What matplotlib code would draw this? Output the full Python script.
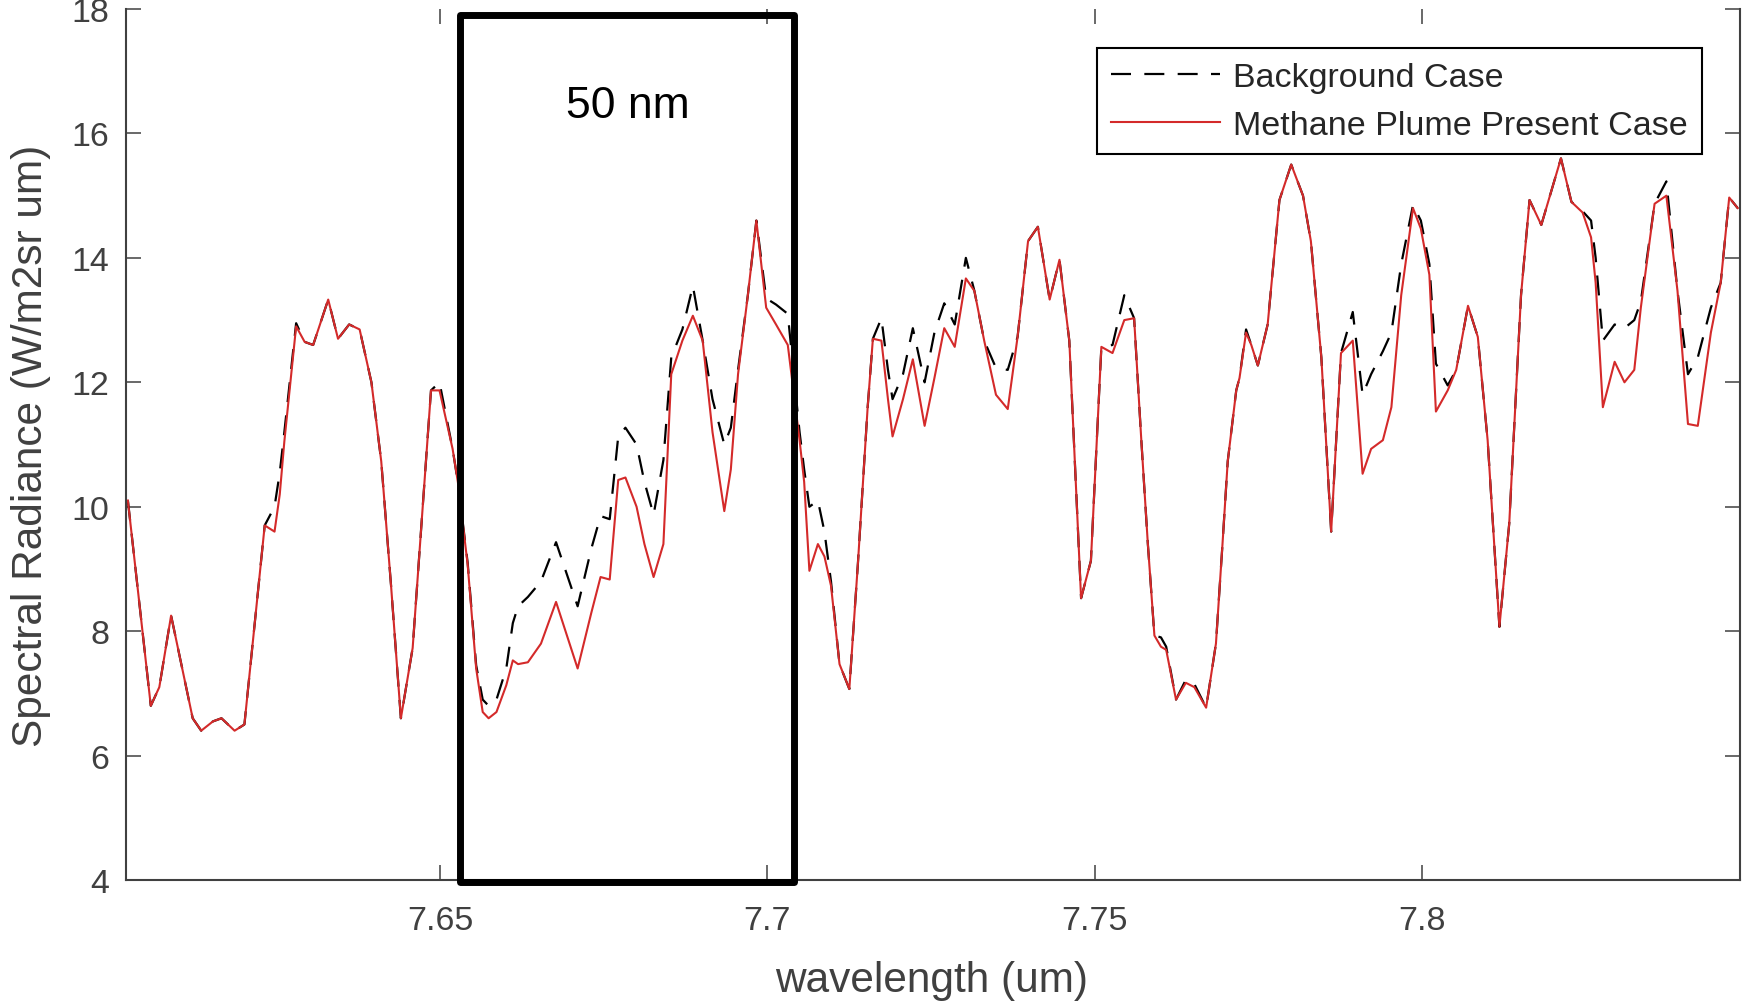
import matplotlib
matplotlib.use("Agg")
import matplotlib.pyplot as plt
from matplotlib.patches import Rectangle

plt.rcParams['font.family'] = ['Liberation Sans', 'DejaVu Sans']

# wavelength (um) of the read-off vertices
wavelength = [
    7.6023, 7.6058, 7.6071, 7.6089, 7.6107, 7.6122, 7.6135, 7.6153, 7.6166, 7.6186,
    7.6201, 7.6232, 7.6247, 7.6255, 7.6262, 7.6280, 7.6293, 7.6306, 7.6329, 7.6344,
    7.6361, 7.6377, 7.6395, 7.6410, 7.6425, 7.6440, 7.6458, 7.6486, 7.6499, 7.6519,
    7.6527, 7.6542, 7.6555, 7.6565, 7.6574, 7.6586, 7.6601, 7.6611, 7.6619, 7.6634,
    7.6654, 7.6677, 7.6710, 7.6731, 7.6745, 7.6759, 7.6772, 7.6783, 7.6800, 7.6812,
    7.6826, 7.6841, 7.6853, 7.6870, 7.6886, 7.6901, 7.6916, 7.6934, 7.6944, 7.6955,
    7.6970, 7.6983, 7.6998, 7.7013, 7.7031, 7.7049, 7.7056, 7.7064, 7.7077, 7.7087,
    7.7097, 7.7110, 7.7125, 7.7138, 7.7153, 7.7161, 7.7174, 7.7184, 7.7191, 7.7207,
    7.7222, 7.7240, 7.7255, 7.7270, 7.7286, 7.7303, 7.7316, 7.7331, 7.7349, 7.7367,
    7.7382, 7.7398, 7.7413, 7.7431, 7.7446, 7.7461, 7.7479, 7.7494, 7.7510, 7.7527,
    7.7545, 7.7560, 7.7571, 7.7581, 7.7591, 7.7601, 7.7609, 7.7624, 7.7639, 7.7652,
    7.7670, 7.7685, 7.7695, 7.7703, 7.7716, 7.7721, 7.7731, 7.7739, 7.7749, 7.7764,
    7.7782, 7.7800, 7.7818, 7.7830, 7.7846, 7.7861, 7.7876, 7.7894, 7.7909, 7.7922,
    7.7940, 7.7953, 7.7968, 7.7986, 7.7998, 7.8011, 7.8021, 7.8039, 7.8052, 7.8070,
    7.8085, 7.8100, 7.8118, 7.8133, 7.8151, 7.8164, 7.8182, 7.8212, 7.8228, 7.8245,
    7.8258, 7.8265, 7.8276, 7.8294, 7.8309, 7.8324, 7.8334, 7.8355, 7.8373, 7.8390,
    7.8406, 7.8421, 7.8441, 7.8456, 7.8469, 7.8482,
]

background = [
    10.10, 6.80, 7.10, 8.25, 7.35, 6.60, 6.40, 6.55, 6.60, 6.40,
    6.50, 9.70, 10.00, 10.55, 11.20, 12.95, 12.65, 12.60, 13.33, 12.70,
    12.93, 12.85, 12.00, 10.73, 8.73, 6.60, 7.73, 11.87, 12.00, 10.93,
    10.40, 9.10, 7.45, 6.90, 6.80, 6.90, 7.40, 8.13, 8.40, 8.55,
    8.80, 9.43, 8.40, 9.33, 9.85, 9.80, 11.13, 11.27, 11.00, 10.40,
    9.87, 10.75, 12.40, 12.85, 13.55, 12.67, 11.73, 11.00, 11.27, 12.20,
    13.40, 14.60, 13.35, 13.25, 13.10, 11.20, 10.60, 10.00, 10.10, 9.60,
    8.80, 7.47, 7.07, 9.07, 11.60, 12.70, 13.03, 12.20, 11.73, 12.13,
    12.87, 12.00, 12.80, 13.27, 12.93, 14.00, 13.47, 12.67, 12.23, 12.20,
    12.73, 14.27, 14.50, 13.33, 13.97, 12.67, 8.53, 9.13, 12.57, 12.60,
    13.40, 13.03, 11.07, 9.40, 7.93, 7.90, 7.75, 6.90, 7.22, 7.15,
    6.77, 7.80, 9.40, 10.73, 11.87, 12.07, 12.85, 12.60, 12.27, 12.93,
    14.93, 15.50, 15.00, 14.27, 12.40, 9.60, 12.47, 13.13, 11.80, 12.13,
    12.50, 12.80, 13.90, 14.85, 14.60, 13.90, 12.30, 11.95, 12.20, 13.23,
    12.73, 11.07, 8.07, 9.73, 13.40, 14.93, 14.53, 15.60, 14.90, 14.75,
    14.60, 14.00, 12.67, 12.93, 12.87, 13.00, 13.30, 14.87, 15.23, 13.47,
    12.13, 12.40, 13.20, 13.60, 14.97, 14.80,
]

plume = [
    10.10, 6.80, 7.10, 8.25, 7.35, 6.60, 6.40, 6.55, 6.60, 6.40,
    6.50, 9.70, 9.60, 10.20, 11.05, 12.90, 12.65, 12.60, 13.33, 12.70,
    12.93, 12.85, 12.00, 10.73, 8.73, 6.60, 7.73, 11.87, 11.87, 10.93,
    10.40, 9.07, 7.40, 6.70, 6.60, 6.70, 7.13, 7.53, 7.47, 7.50,
    7.80, 8.47, 7.40, 8.30, 8.87, 8.83, 10.43, 10.47, 10.00, 9.40,
    8.87, 9.40, 12.13, 12.67, 13.07, 12.67, 11.20, 9.93, 10.60, 12.13,
    13.40, 14.60, 13.20, 12.93, 12.60, 11.07, 10.40, 8.97, 9.40, 9.20,
    8.73, 7.47, 7.07, 9.07, 11.60, 12.70, 12.67, 11.73, 11.13, 11.73,
    12.37, 11.30, 12.07, 12.87, 12.57, 13.67, 13.47, 12.67, 11.80, 11.57,
    12.73, 14.27, 14.50, 13.33, 13.97, 12.67, 8.53, 9.13, 12.57, 12.47,
    13.00, 13.03, 11.07, 9.40, 7.93, 7.75, 7.70, 6.90, 7.17, 7.10,
    6.77, 7.80, 9.40, 10.73, 11.87, 12.07, 12.80, 12.60, 12.27, 12.93,
    14.93, 15.50, 15.00, 14.27, 12.40, 9.60, 12.47, 12.67, 10.53, 10.93,
    11.07, 11.60, 13.40, 14.80, 14.47, 13.73, 11.53, 11.87, 12.20, 13.23,
    12.73, 11.07, 8.07, 9.73, 13.40, 14.93, 14.53, 15.60, 14.90, 14.73,
    14.33, 13.60, 11.60, 12.33, 12.00, 12.20, 13.20, 14.87, 15.00, 13.47,
    11.33, 11.30, 12.80, 13.60, 14.97, 14.80,
]

x_ticks = [7.65, 7.7, 7.75, 7.8]
x_tick_labels = ['7.65', '7.7', '7.75', '7.8']
y_ticks = [4, 6, 8, 10, 12, 14, 16, 18]

# highlighted 50 nm band
band_start = 7.6531
band_end = 7.7041

axis_gray = '#404040'

fig = plt.figure(figsize=(17.44, 10.04), dpi=100)
ax = fig.add_axes([0.0722, 0.1225, 0.9257, 0.8675])

ax.plot(wavelength, background, color='black', linestyle=(0, (9, 6)), linewidth=1.6,
        label='Background Case')
ax.plot(wavelength, plume, color='#d42a2a', linewidth=1.5,
        label='Methane Plume Present Case')

ax.set_xlim(7.6020, 7.8486)
ax.set_ylim(4, 18)
ax.set_xticks(x_ticks)
ax.set_xticklabels(x_tick_labels)
ax.set_yticks(y_ticks)

ax.tick_params(direction='in', top=True, right=True, length=11, width=1.1,
               labelsize=24.5, colors=axis_gray)
ax.tick_params(axis='x', pad=18)
ax.tick_params(axis='y', pad=12)
for side in ['left', 'right', 'bottom']:
    ax.spines[side].set_color(axis_gray)
    ax.spines[side].set_linewidth(1.5)
ax.spines['top'].set_visible(False)

ax.set_xlabel('wavelength (um)', fontsize=30.5, color=axis_gray)
ax.set_ylabel('Spectral Radiance (W/m2sr um)', fontsize=30.5, color=axis_gray)
ax.xaxis.label.set_va('center')
ax.yaxis.label.set_va('center')
ax.xaxis.set_label_coords(0.499, -0.115)
ax.yaxis.set_label_coords(-0.0588, 0.50)

leg = ax.legend(loc='upper right', bbox_to_anchor=(0.976, 0.955), fontsize=24.5,
                fancybox=False, edgecolor='black', framealpha=1, handlelength=3.2,
                handletextpad=0.4, borderpad=0.4, labelspacing=0.5, borderaxespad=0)
leg.get_frame().set_linewidth(1.5)
for t in leg.get_texts():
    t.set_color('#262626')

# the 50 nm window box
ax.add_patch(Rectangle((band_start, 3.97), band_end - band_start, 17.91 - 3.97,
                       fill=False, edgecolor='black', linewidth=5, joinstyle='round',
                       clip_on=False, zorder=5))
ax.text((band_start + band_end) / 2, 16.45, '50 nm', fontsize=32, color='black',
        ha='center', va='center')

fig.savefig('out.png', dpi=100)
